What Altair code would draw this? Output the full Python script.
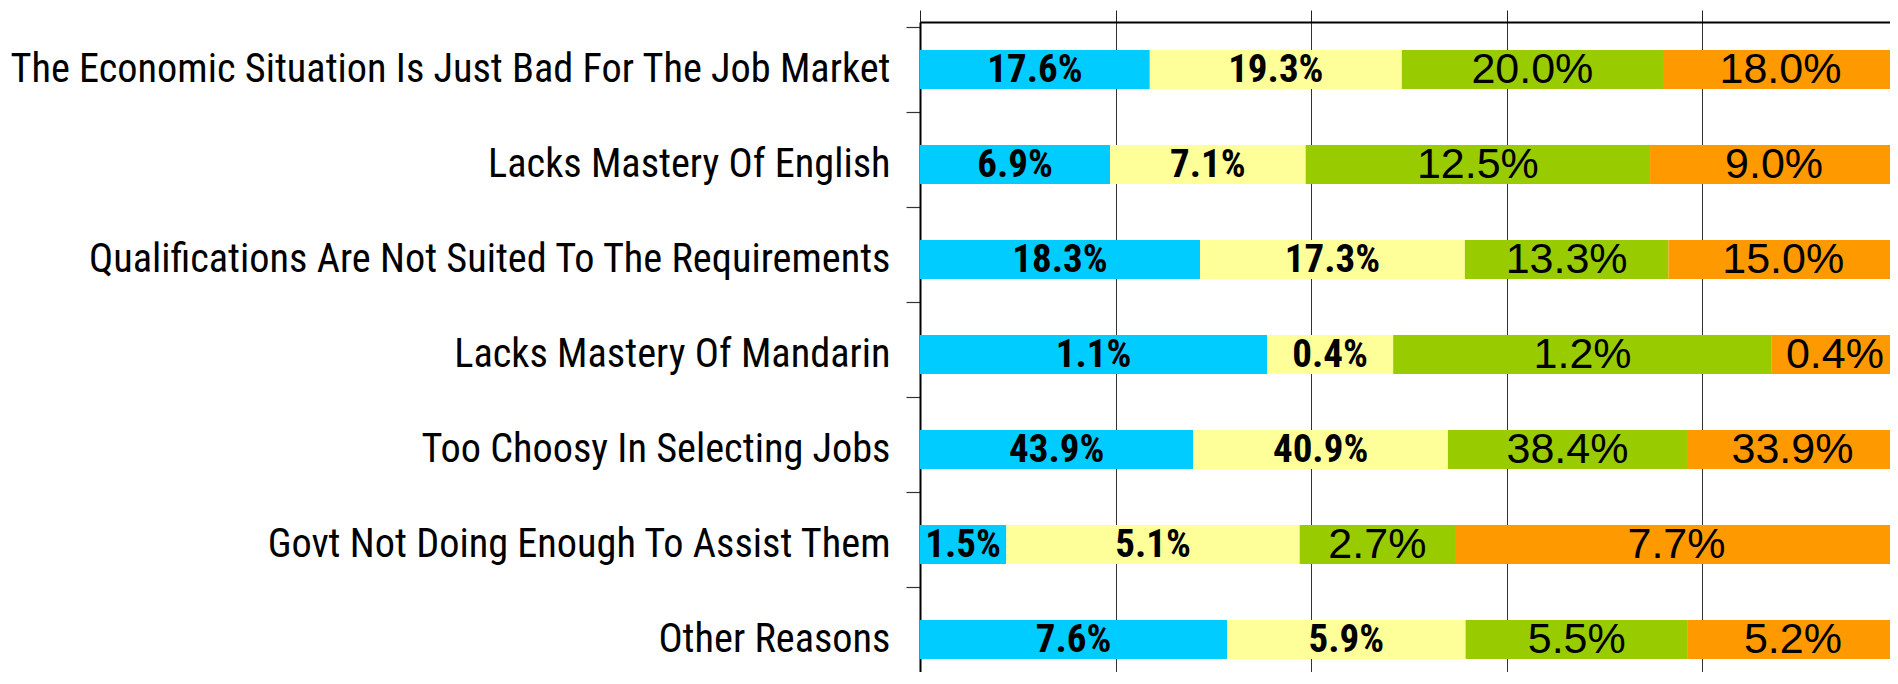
import altair as alt
import pandas as pd

reasons = [
    "The Economic Situation Is Just Bad For The Job Market",
    "Lacks Mastery Of English",
    "Qualifications Are Not Suited To The Requirements",
    "Lacks Mastery Of Mandarin",
    "Too Choosy In Selecting Jobs",
    "Govt Not Doing Enough To Assist Them",
    "Other Reasons",
]
groups = ["Group 1", "Group 2", "Group 3", "Group 4"]
group1 = [17.6, 6.9, 18.3, 1.1, 43.9, 1.5, 7.6]
group2 = [19.3, 7.1, 17.3, 0.4, 40.9, 5.1, 5.9]
group3 = [20.0, 12.5, 13.3, 1.2, 38.4, 2.7, 5.5]
group4 = [18.0, 9.0, 15.0, 0.4, 33.9, 7.7, 5.2]
colors = ["#00CCFF", "#FFFF99", "#99CC00", "#FF9900"]
grid_values = [0, 0.2, 0.4, 0.6, 0.8, 1.0]

rows = []
for gi, (g, vals) in enumerate(zip(groups, [group1, group2, group3, group4])):
    for r, v in zip(reasons, vals):
        rows.append({"reason": r, "group": g, "gidx": gi, "value": v})
df = pd.DataFrame(rows)

base = (
    alt.Chart(df)
    .transform_joinaggregate(total="sum(value)", groupby=["reason"])
    .transform_calculate(share="datum.value / datum.total")
    .transform_window(
        cum="sum(share)",
        sort=[alt.SortField("gidx")],
        groupby=["reason"],
        frame=[None, 0],
    )
    .transform_calculate(
        start="datum.cum - datum.share",
        mid="datum.cum - datum.share / 2",
        label="format(datum.value, '.1f') + '%'",
    )
)

y_scale = alt.Scale(range=[0, 665])
x_scale = alt.Scale(domain=[0, 1], nice=False, zero=True, range=[0, 978])

y_enc = alt.Y(
    "reason:N",
    sort=reasons,
    title=None,
    scale=y_scale,
    axis=alt.Axis(
        orient="left",
        labelFont="Roboto Condensed",
        labelFontSize=40.3,
        labelColor="#000000",
        labelLimit=2000,
        labelPadding=16,
        tickBand="extent",
        tickSize=14,
        tickColor="#333333",
        tickWidth=1.2,
        domainColor="#000000",
        domainWidth=2,
        grid=False,
    ),
)

bars = base.mark_bar(size=39).encode(
    y=y_enc,
    x=alt.X(
        "start:Q",
        scale=x_scale,
        title=None,
        axis=alt.Axis(
            orient="top",
            values=grid_values,
            labels=False,
            ticks=True,
            tickSize=12,
            tickColor="#222222",
            tickWidth=1,
            grid=True,
            gridColor="#333333",
            gridWidth=1,
            gridOpacity=1,
            domainColor="#000000",
            domainWidth=2,
        ),
    ),
    x2="cum:Q",
    color=alt.Color("group:N", scale=alt.Scale(domain=groups, range=colors), legend=None),
)

text_small = (
    base.transform_filter("datum.gidx < 2")
    .mark_text(
        font="Roboto Condensed",
        fontWeight="bold",
        fontSize=39,
        baseline="middle",
        align="center",
        color="#000000",
    )
    .encode(y=alt.Y("reason:N", sort=reasons, scale=y_scale), x=alt.X("mid:Q", scale=x_scale), text="label:N")
)

text_big = (
    base.transform_filter("datum.gidx >= 2")
    .mark_text(
        font="Liberation Sans",
        fontSize=43,
        baseline="middle",
        align="center",
        color="#000000",
    )
    .encode(y=alt.Y("reason:N", sort=reasons, scale=y_scale), x=alt.X("mid:Q", scale=x_scale), text="label:N")
)

chart = (
    alt.layer(bars, text_small, text_big)
    .properties(
        width=970,
        height=650,
        autosize=alt.AutoSizeParams(type="none"),
        padding={"left": 912, "right": 0, "top": 14, "bottom": 0},
    )
    .configure_view(stroke=None)
    .configure(background="white")
)

chart.save("out.html", embed_options={"renderer": "svg", "actions": False})
